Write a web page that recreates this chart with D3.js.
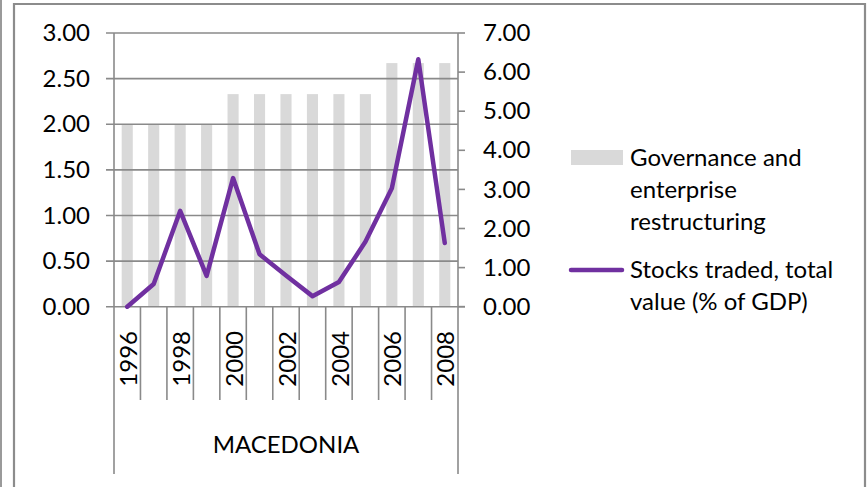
<!DOCTYPE html>
<html>
<head>
<meta charset="utf-8">
<script src="https://cdn.jsdelivr.net/npm/d3@7"></script>
<style>
  html, body { margin: 0; padding: 0; background: #fff; }
  svg { display: block; }
  text { font-family: Lato, "Noto Sans", sans-serif; fill: #000; }
</style>
</head>
<body>
<script>
// ---- data ----
const years = ["1996","1997","1998","1999","2000","2001","2002","2003","2004","2005","2006","2007","2008"];
const yearLabels = ["1996","1998","2000","2002","2004","2006","2008"];
const governance = [2.00,2.00,2.00,2.00,2.33,2.33,2.33,2.33,2.33,2.33,2.67,2.67,2.67];
const stocksTraded = [0.00,0.58,2.45,0.79,3.29,1.34,0.80,0.27,0.63,1.66,3.03,6.33,1.63];
const leftTicks = [0,0.5,1,1.5,2,2.5,3];
const rightTicks = [0,1,2,3,4,5,6,7];
const groupLabel = "MACEDONIA";
const seriesNames = ["Governance and|enterprise|restructuring", "Stocks traded, total|value (% of GDP)"];

const W = 867, H = 487;
const plot = { left: 114, right: 458, top: 33, bottom: 306.7 };
const gridColor = "#8a8a8a";
const barColor = "#d9d9d9";
const lineColor = "#7030a0";
const FS = 24;

const svg = d3.select("body").append("svg").attr("width", W).attr("height", H);

// frame
svg.append("line").attr("x1", 1).attr("x2", 1).attr("y1", 0).attr("y2", H)
  .attr("stroke", "#9a9a9a").attr("stroke-width", 2);
svg.append("path").attr("d", `M14,${H} L14,4 L865,4 L865,${H}`)
  .attr("fill", "none").attr("stroke", "#8c8c8c").attr("stroke-width", 2.2);

const x = d3.scaleBand().domain(years).range([plot.left, plot.right]);
const yL = d3.scaleLinear().domain([0, 3]).range([plot.bottom, plot.top]);
const yR = d3.scaleLinear().domain([0, 7]).range([plot.bottom, plot.top]);

// bars
const bw = x.bandwidth() * 0.42;
svg.append("g").selectAll("rect").data(years).join("rect")
  .attr("x", (d) => x(d) + x.bandwidth() / 2 - bw / 2)
  .attr("y", (d, i) => yL(governance[i]))
  .attr("width", bw)
  .attr("height", (d, i) => yL(0) - yL(governance[i]))
  .attr("fill", barColor);

// gridlines (left ticks, extended outward)
svg.append("g").selectAll("line").data(leftTicks).join("line")
  .attr("x1", plot.left - 8).attr("x2", plot.right)
  .attr("y1", (d) => yL(d)).attr("y2", (d) => yL(d))
  .attr("stroke", gridColor).attr("stroke-width", 1.6);

// right ticks
svg.append("g").selectAll("line").data(rightTicks).join("line")
  .attr("x1", plot.right).attr("x2", plot.right + 7)
  .attr("y1", (d) => yR(d)).attr("y2", (d) => yR(d))
  .attr("stroke", gridColor).attr("stroke-width", 1.6);

// axis lines
svg.append("line").attr("x1", plot.left).attr("x2", plot.left).attr("y1", plot.top).attr("y2", 474)
  .attr("stroke", gridColor).attr("stroke-width", 1.6);
svg.append("line").attr("x1", plot.right).attr("x2", plot.right).attr("y1", plot.top).attr("y2", 474)
  .attr("stroke", gridColor).attr("stroke-width", 1.6);
svg.append("line").attr("x1", plot.right).attr("x2", plot.right + 7).attr("y1", plot.bottom).attr("y2", plot.bottom)
  .attr("stroke", gridColor).attr("stroke-width", 1.6);

// category tick lines
svg.append("g").selectAll("line").data(years.slice(1)).join("line")
  .attr("x1", (d) => x(d)).attr("x2", (d) => x(d))
  .attr("y1", plot.bottom).attr("y2", 400)
  .attr("stroke", gridColor).attr("stroke-width", 1.6);

// left axis labels
const axL = svg.append("g").attr("transform", `translate(${plot.left - 24},0)`)
  .call(d3.axisLeft(yL).tickValues(leftTicks).tickFormat(d3.format(".2f")).tickSize(0).tickPadding(0));
axL.select(".domain").remove();
axL.selectAll("text").attr("font-size", FS).attr("font-family", "Lato").attr("fill", "#000");

// right axis labels
const axR = svg.append("g").attr("transform", `translate(${plot.right + 25},0)`)
  .call(d3.axisRight(yR).tickValues(rightTicks).tickFormat(d3.format(".2f")).tickSize(0).tickPadding(0));
axR.select(".domain").remove();
axR.selectAll("text").attr("font-size", FS).attr("font-family", "Lato").attr("fill", "#000");

// year labels rotated
svg.append("g").selectAll("text").data(yearLabels).join("text")
  .attr("transform", (d) => `translate(${x(d) + x.bandwidth() / 2 + 1},331) rotate(-90)`)
  .attr("text-anchor", "end")
  .attr("dy", "0.36em")
  .attr("font-size", FS)
  .text((d) => d);

// group label
svg.append("text").attr("x", (plot.left + plot.right) / 2).attr("y", 453)
  .attr("text-anchor", "middle").attr("font-size", FS).text(groupLabel);

// line series
const line = d3.line()
  .x((d, i) => x(years[i]) + x.bandwidth() / 2)
  .y((d) => yR(d));
svg.append("path").datum(stocksTraded)
  .attr("d", line)
  .attr("fill", "none").attr("stroke", lineColor).attr("stroke-width", 4.5)
  .attr("stroke-linejoin", "round").attr("stroke-linecap", "round");

// legend
const lg = svg.append("g");
lg.append("rect").attr("x", 571).attr("y", 150).attr("width", 52).attr("height", 15).attr("fill", barColor);
lg.append("line").attr("x1", 571).attr("x2", 622).attr("y1", 270).attr("y2", 270)
  .attr("stroke", lineColor).attr("stroke-width", 4.5).attr("stroke-linecap", "round");
const lgText = [
  { lines: seriesNames[0].split("|"), y: 166 },
  { lines: seriesNames[1].split("|"), y: 278 }
];
lgText.forEach((t) => {
  const tx = lg.append("text").attr("x", 630).attr("y", t.y).attr("font-size", FS);
  t.lines.forEach((l, i) => {
    tx.append("tspan").attr("x", 630).attr("y", t.y + i * 32).text(l);
  });
});
</script>
</body>
</html>
